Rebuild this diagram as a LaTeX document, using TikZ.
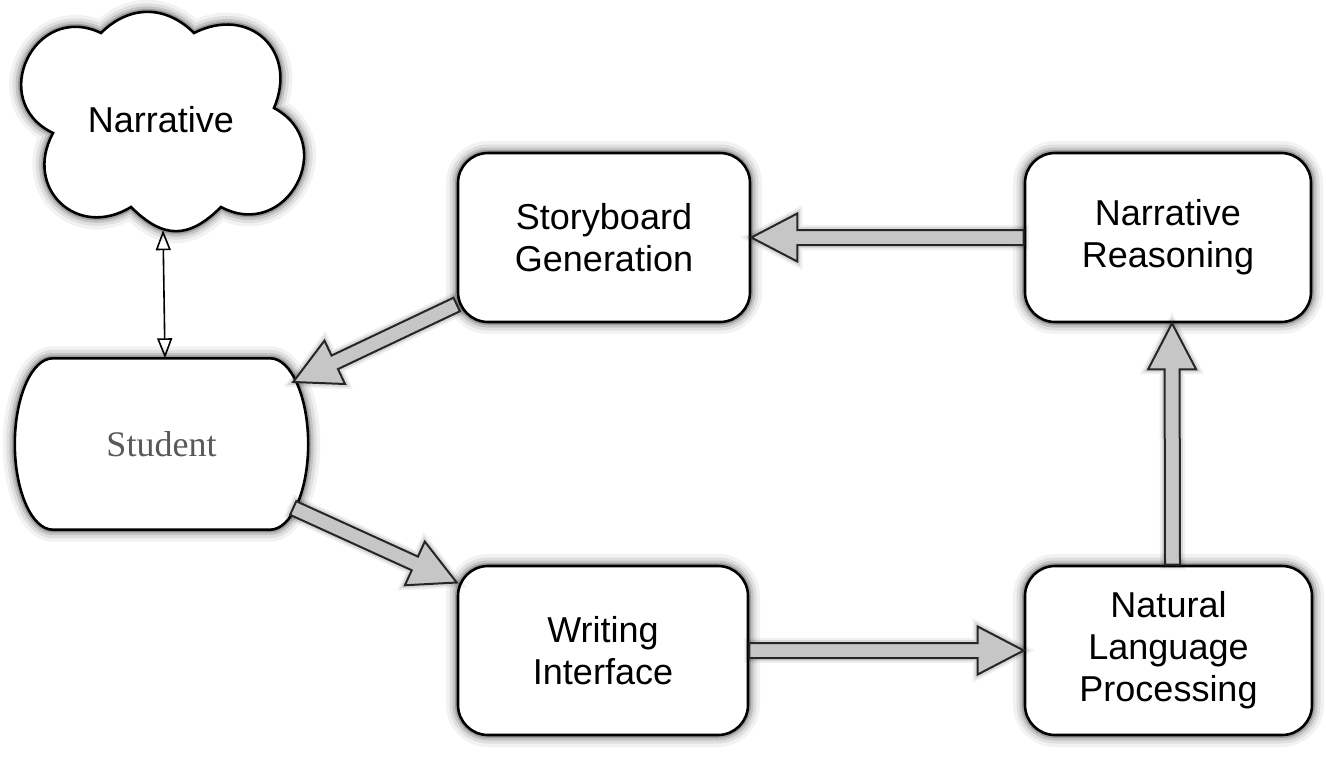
\documentclass[tikz,border=0pt]{standalone}
\usepackage{fontspec}
\setmainfont{Liberation Sans}
\newfontfamily\stufont{Liberation Serif}
\usetikzlibrary{arrows.meta,calc,backgrounds}
\tikzset{
 glow/.style={preaction={draw=black,draw opacity=0.05,line width=24pt},
              preaction={draw=black,draw opacity=0.08,line width=17pt},
              preaction={draw=black,draw opacity=0.12,line width=11pt},
              preaction={draw=black,draw opacity=0.2,line width=6pt}},
 softglow/.style={preaction={draw=black,draw opacity=0.06,line width=10pt},
                  preaction={draw=black,draw opacity=0.1,line width=6pt}},
 outline/.style={glow, draw=black, fill=white, line width=2.6pt},
 box/.style={outline, rounded corners=30pt,
             minimum height=169pt, align=center, text=black,
             font=\fontsize{36}{42}\selectfont},
 fat/.style={softglow, draw=black!85, fill=gray!45, line width=2pt, line join=miter},
 thinarrow/.style={line width=1.6pt, {Triangle[open,length=20pt,width=15pt]}-{Triangle[open,length=20pt,width=15pt]}},
}
\newcommand\fatarrow[2]{%
 \coordinate (fa-a) at (#1);
 \coordinate (fa-b) at (#2);
 \coordinate (fa-h) at ($(fa-b)!46pt!(fa-a)$);
 \draw[fat] ($(fa-a)!7.5pt!90:(fa-b)$) -- ($(fa-h)!7.5pt!90:(fa-b)$) --
   ($(fa-h)!24pt!90:(fa-b)$) -- (fa-b) -- ($(fa-h)!24pt!-90:(fa-b)$) --
   ($(fa-h)!7.5pt!-90:(fa-b)$) -- ($(fa-a)!7.5pt!-90:(fa-b)$) -- cycle;
}
\begin{document}
\begin{tikzpicture}[x=1pt,y=-1pt]
\path[use as bounding box] (0,0) rectangle (1326,758);
\node[minimum width=272pt, minimum height=220pt, text=black,
      font=\fontsize{36}{42}\selectfont] (cl) at (161,120) {Narrative};
\node[box, minimum width=292pt] (sg) at (604,237.5) {Storyboard\\Generation};
\node[box, minimum width=286pt] (nr) at (1168,237.5) {Narrative\\Reasoning};
\node[box, minimum width=290pt] (wi) at (603,650.5) {Writing\\Interface};
\node[box, minimum width=287pt] (nlp) at (1168.5,650.5) {Natural\\Language\\Processing};
\node[minimum width=293pt, minimum height=171pt, text=black!65,
      font=\stufont\fontsize{36}{42}\selectfont] (st) at (161.5,444) {Student};
\begin{scope}[on background layer]
\begin{scope}[shift={(cl.center)}]
\draw[outline] (-108,13) to[bend left=90, looseness=1.7] (-60,-87)
  to[bend left=45, looseness=1.1] (33,-87)
  to[bend left=70, looseness=1.45] (113,-12)
  to[bend left=90, looseness=1.7] (60,87)
  to[bend left=45, looseness=1.3] (-30,87)
  to[bend left=75, looseness=1.5] (-108,13) -- cycle;
\end{scope}
\draw[outline]
  ([xshift=38pt]st.north west) -- ([xshift=-38pt]st.north east)
  .. controls ([xshift=-17pt]st.north east) and ([yshift=47pt]st.east) .. (st.east)
  .. controls ([yshift=-47pt]st.east) and ([xshift=-17pt]st.south east) .. ([xshift=-38pt]st.south east)
  -- ([xshift=38pt]st.south west)
  .. controls ([xshift=17pt]st.south west) and ([yshift=-47pt]st.west) .. (st.west)
  .. controls ([yshift=47pt]st.west) and ([xshift=17pt]st.north west) .. cycle;
\end{scope}
\draw[thinarrow] ([xshift=2pt]cl.south) -- ([xshift=3.5pt]st.north);
\fatarrow{nr.west}{sg.east}
\fatarrow{wi.east}{nlp.west}
\fatarrow{[xshift=4pt]nlp.north}{[xshift=4pt]nr.south}
\fatarrow{[yshift=-67pt]sg.west}{[xshift=-15pt,yshift=62pt]st.east}
\fatarrow{[xshift=-15pt,yshift=-64pt]st.east}{[yshift=68pt]wi.west}
\end{tikzpicture}
\end{document}
